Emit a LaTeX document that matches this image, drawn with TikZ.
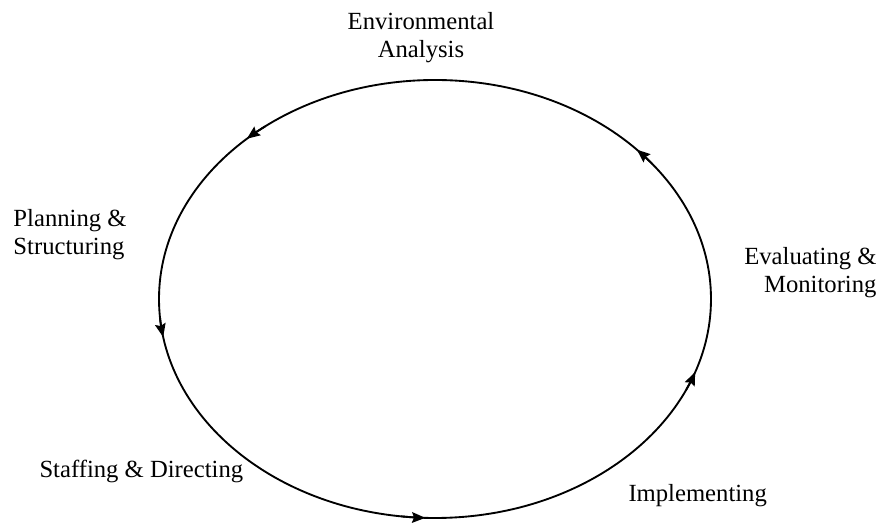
\documentclass[tikz,border=0pt]{standalone}
\usepackage{fontspec}
\setmainfont{Liberation Serif}
\usetikzlibrary{arrows.meta}

\tikzset{every picture/.style={line width=0.75pt}}
\tikzset{
  cyclearrow/.style={line width=1.4pt,-{Stealth[length=10pt,width=8pt,inset=1.5pt]}},
  stagelabel/.style={inner sep=0pt,font=\fontsize{18.5}{21}\selectfont},
}

\begin{document}
\begin{tikzpicture}[x=0.75pt,y=0.75pt,yscale=-1,xscale=1]
    \useasboundingbox (0,0) rectangle (890,523);

    %Shape: Ellipse
    \coordinate (cyc) at (435,299);
    \draw [line width=1.4pt] (cyc) ellipse (276 and 219);
    %Arrows on the cycle
    \foreach \s/\e in {232/227, 322/317, 175/170, 24.5/19.5, 97/92} {
        \draw [cyclearrow] (cyc) ++(\s:276 and 219) arc [start angle=\s, end angle=\e, x radius=276, y radius=219];
    }

    %Text Node
    \node [stagelabel, align=center, anchor=north] (envAnalysis) at (421,12) {Environmental\\Analysis};
    %Text Node
    \node [stagelabel, align=left, anchor=north west] (planStruct) at (13,209) {Planning \&\\Structuring};
    %Text Node
    \node [stagelabel, align=right, anchor=north east] (evalMonitor) at (877,247) {Evaluating \&\\Monitoring};
    %Text Node
    \node [stagelabel, anchor=base west] (staffDirect) at (39,478) {Staffing \& Directing};
    %Text Node
    \node [stagelabel, anchor=base west] (implementing) at (628,502) {Implementing};

\end{tikzpicture}
\end{document}
